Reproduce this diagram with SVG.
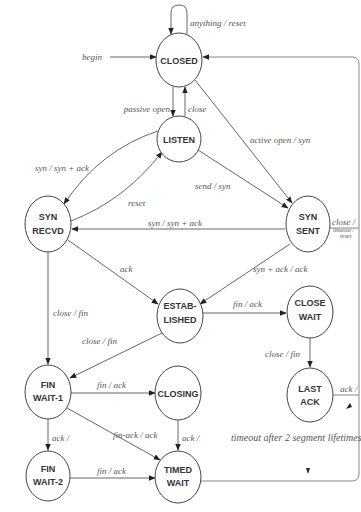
<svg xmlns="http://www.w3.org/2000/svg" width="361" height="512" viewBox="0 0 361 512">
<style>
.st ellipse{fill:#fff;stroke:#444;stroke-width:1}
.st text{font-family:"Liberation Sans",Arial,sans-serif;font-weight:bold;font-size:9px;fill:#333;text-anchor:middle}
.ed path{fill:none;stroke:#666;stroke-width:1}
.ed path.tri{fill:#222;stroke:none}
.lb{font-family:"Liberation Serif","Times New Roman",serif;font-style:italic;font-size:9px;fill:#555}
</style>
<defs>
<marker id="ah" viewBox="0 0 10 10" refX="9" refY="5" markerWidth="7" markerHeight="7" orient="auto" markerUnits="userSpaceOnUse">
<path d="M0,1 L10,5 L0,9 z" fill="#222"/>
</marker>
</defs>
<rect width="361" height="512" fill="#fff"/>
<g class="ed" id="connectors">
<path d="M187,34 L187,13 Q187,5 179,5 Q171,5 171,13 L171,34" marker-end="url(#ah)"/>
<path d="M110,57 L156,57" marker-end="url(#ah)"/>
<path d="M201,481 L352,481 Q359,481 359,474 L359,64 Q359,57 352,57 L203,57" marker-end="url(#ah)" style="stroke:#888"/>
<path d="M330,228 L359,228" style="stroke:#888"/>
<path d="M333,395 L359,395" style="stroke:#888"/>
<path d="M173,87 L173,116" marker-end="url(#ah)"/>
<path d="M185,116 L185,87" marker-end="url(#ah)"/>
<path d="M195,80 L292,203" marker-end="url(#ah)"/>
<path d="M198,150 L288,208" marker-end="url(#ah)"/>
<path d="M158,131 Q100,150 64,204" marker-end="url(#ah)"/>
<path d="M71,221 Q125,200 162,152" marker-end="url(#ah)"/>
<path d="M285,229 L72,229" marker-end="url(#ah)"/>
<path d="M68,240 L158,304" marker-end="url(#ah)"/>
<path d="M290,244 L200,304" marker-end="url(#ah)"/>
<path d="M48,252 L48,364" marker-end="url(#ah)"/>
<path d="M162,333 L70,378" marker-end="url(#ah)"/>
<path d="M203,313 L286,313" marker-end="url(#ah)"/>
<path d="M310,338 L310,367" marker-end="url(#ah)"/>
<path d="M71,393 L155,393" marker-end="url(#ah)"/>
<path d="M48,419 L48,450" marker-end="url(#ah)"/>
<path d="M67,408 L160,460" marker-end="url(#ah)"/>
<path d="M178,420 L178,450" marker-end="url(#ah)"/>
<path d="M70,478 L155,478" marker-end="url(#ah)"/>
<path class="tri" d="M306,468 L310,468 L308,474 z"/>
<path class="tri" d="M350,403 L352,407 L346,409 z"/>
</g>
<g class="lb" id="labels">
<text x="190" y="26">anything / reset</text>
<text x="82" y="60">begin</text>
<text x="170" y="112" text-anchor="end">passive open</text>
<text x="188" y="112">close</text>
<text x="250" y="143">active open / syn</text>
<text x="195" y="189">send / syn</text>
<text x="35" y="171">syn / syn + ack</text>
<text x="128" y="206">reset</text>
<text x="148" y="226">syn / syn + ack</text>
<text x="332" y="225">close /</text>
<text x="333" y="232" font-size="6">timeout /</text>
<text x="340" y="238" font-size="6">reset</text>
<text x="120" y="272">ack</text>
<text x="253" y="272">syn + ack / ack</text>
<text x="53" y="316">close / fin</text>
<text x="82" y="344">close / fin</text>
<text x="233" y="307">fin / ack</text>
<text x="265" y="357">close / fin</text>
<text x="340" y="392">ack /</text>
<text x="97" y="388">fin / ack</text>
<text x="52" y="441">ack /</text>
<text x="113" y="438">fin-ack / ack</text>
<text x="182" y="441">ack /</text>
<text x="97" y="474">fin / ack</text>
<text x="231" y="441" font-size="10">timeout after 2 segment lifetimes</text>
</g>
<g class="st" id="closed"><ellipse cx="179" cy="60" rx="23" ry="27"/><text x="179" y="64" font-size="10">CLOSED</text></g>
<g class="st" id="listen"><ellipse cx="179" cy="139" rx="22" ry="23"/><text x="179" y="143">LISTEN</text></g>
<g class="st" id="syn-recvd"><ellipse cx="48" cy="224" rx="23" ry="28"/><text x="48" y="220">SYN</text><text x="48" y="234">RECVD</text></g>
<g class="st" id="syn-sent"><ellipse cx="308" cy="224" rx="22" ry="28"/><text x="308" y="220">SYN</text><text x="308" y="234">SENT</text></g>
<g class="st" id="established"><ellipse cx="180" cy="316" rx="23" ry="27"/><text x="180" y="309">ESTAB-</text><text x="180" y="323">LISHED</text></g>
<g class="st" id="close-wait"><ellipse cx="310" cy="312" rx="23" ry="26"/><text x="310" y="306">CLOSE</text><text x="310" y="320">WAIT</text></g>
<g class="st" id="fin-wait-1"><ellipse cx="48" cy="392" rx="23" ry="27"/><text x="48" y="388">FIN</text><text x="48" y="401">WAIT-1</text></g>
<g class="st" id="closing"><ellipse cx="178" cy="393" rx="23" ry="27"/><text x="178" y="397">CLOSING</text></g>
<g class="st" id="last-ack"><ellipse cx="310" cy="395" rx="23" ry="27"/><text x="310" y="392">LAST</text><text x="310" y="405">ACK</text></g>
<g class="st" id="fin-wait-2"><ellipse cx="48" cy="476" rx="22" ry="25"/><text x="48" y="472">FIN</text><text x="48" y="485">WAIT-2</text></g>
<g class="st" id="timed-wait"><ellipse cx="178" cy="477" rx="23" ry="26"/><text x="178" y="473">TIMED</text><text x="178" y="486">WAIT</text></g>
</svg>
